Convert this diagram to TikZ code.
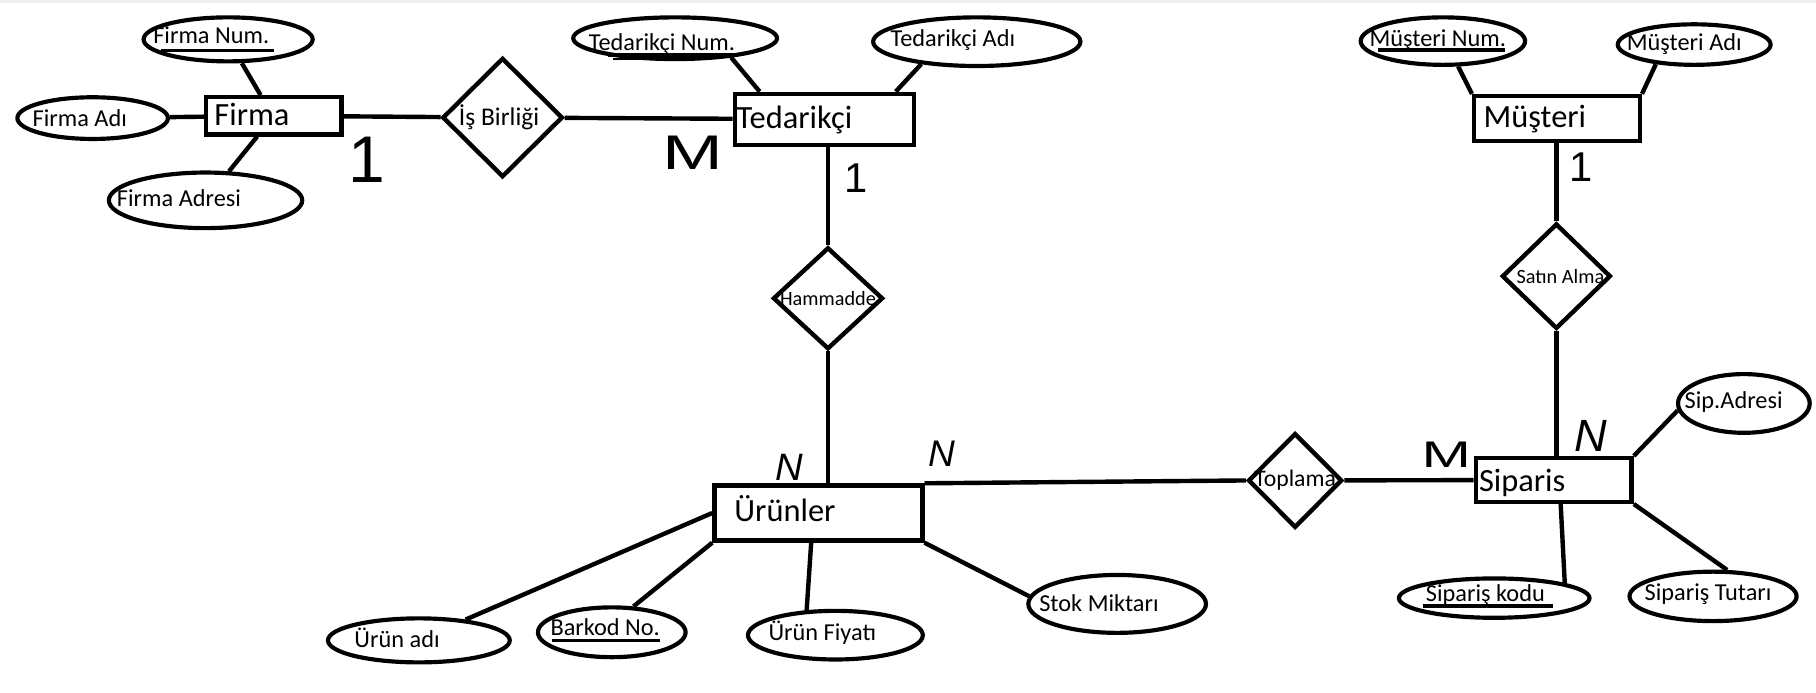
\documentclass[tikz,border=0pt]{standalone}
\usepackage{fontspec}
\setmainfont{Carlito}
\newfontfamily\cardfont{Liberation Sans}
\usetikzlibrary{shapes.geometric,calc}

\tikzstyle{entity} = [rectangle, draw=black, line width=3.8pt, inner sep=0pt]
\tikzstyle{attr} = [ellipse, draw=black, line width=3.6pt, inner sep=0pt]
\tikzstyle{rel} = [diamond, draw=black, line width=3.8pt, inner sep=0pt]
\tikzstyle{link} = [line width=3.8pt]
\tikzstyle{keyline} = [line width=3pt]
\tikzstyle{ename} = [anchor=base west, inner sep=0pt, font=\fontsize{28}{30}\selectfont]
\tikzstyle{aname} = [anchor=base west, inner sep=0pt, font=\fontsize{21}{24}\selectfont]
\tikzstyle{card} = [anchor=base, inner sep=0pt]

\begin{document}
\begin{tikzpicture}[x=1pt, y=-1pt]
\useasboundingbox (0,0) rectangle (1568.2,598.4);
\fill [black!6] (0,0) rectangle (1568.2,2.3);

% entities
\node (firma) [entity, minimum width=117pt, minimum height=32pt] at (236.5,100) {};
\node (tedar) [entity, minimum width=155pt, minimum height=44pt] at (712,103) {};
\node (muster) [entity, minimum width=143pt, minimum height=39pt] at (1344.5,102.5) {};
\node (urun) [entity, minimum width=179.5pt, minimum height=47.5pt] at (706.7,443) {};
\node (sipar) [entity, minimum width=134.5pt, minimum height=37.7pt] at (1341.7,414.5) {};

\node (firmat) [ename] at (185,108) {Firma};
\node (tedart) [ename] at (636,111) {Tedarikçi};
\node (mustert) [ename] at (1281,110) {Müşteri};
\node (urunt) [ename] at (634,450.5) {Ürünler};
\node (sipart) [ename] at (1277,424.6) {Siparis};

% relations
\node (isb) [rel, minimum width=104pt, minimum height=103pt, label={[font=\fontsize{22}{24}\selectfont, xshift=-3pt]center:İş Birliği}] at (434,101.5) {};
\node (ham) [rel, minimum width=95pt, minimum height=88pt, label={[font=\fontsize{17.5}{20}\selectfont]center:Hammadde}] at (715,257.6) {};
\node (satin) [rel, minimum width=94pt, minimum height=91pt, label={[font=\fontsize{17.5}{20}\selectfont, xshift=3.5pt]center:Satın Alma}] at (1344,238.5) {};
\node (topl) [rel, minimum width=81.3pt, minimum height=81.7pt, label={[font=\fontsize{20.5}{23}\selectfont]center:Toplama}] at (1118.4,414.9) {};

% attributes
\node (fnum) [attr, minimum width=146pt, minimum height=38pt] at (197,34) {};
\node (fadi) [attr, minimum width=130pt, minimum height=36pt] at (80,102) {};
\node (fadr) [attr, minimum width=167pt, minimum height=48pt] at (177.5,173) {};
\node (tnum) [attr, minimum width=176pt, minimum height=36pt] at (583,33) {};
\node (tadi) [attr, minimum width=179pt, minimum height=42pt] at (843.5,36) {};
\node (mnum) [attr, minimum width=142pt, minimum height=41pt] at (1246,35.5) {};
\node (madi) [attr, minimum width=132pt, minimum height=35pt] at (1463,38.5) {};
\node (uadi) [attr, minimum width=157pt, minimum height=38pt] at (361.7,553) {};
\node (ubar) [attr, minimum width=127.5pt, minimum height=43pt] at (528.3,546) {};
\node (ufiy) [attr, minimum width=151pt, minimum height=42pt] at (721.4,548.5) {};
\node (ustok) [attr, minimum width=153.4pt, minimum height=50pt] at (964.7,521.5) {};
\node (sadr) [attr, minimum width=113.7pt, minimum height=50.7pt] at (1505.9,348.4) {};
\node (skod) [attr, minimum width=164.6pt, minimum height=34pt] at (1290.3,516.5) {};
\node (stut) [attr, minimum width=144.3pt, minimum height=42.7pt] at (1479.3,515) {};

\node (fnumt) [aname] at (132.2,37.4) {Firma Num.};
\node (fadit) [aname] at (28,109) {Firma Adı};
\node (fadrt) [aname] at (100.8,178.5) {Firma Adresi};
\node (tnumt) [aname] at (508.3,43.2) {Tedarikçi Num.};
\node (tadit) [aname] at (768.9,40.3) {Tedarikçi Adı};
\node (mnumt) [aname] at (1182.5,40.3) {Müşteri Num.};
\node (madit) [aname] at (1404.7,43.2) {Müşteri Adı};
\node (uadit) [aname] at (305.9,559) {Ürün adı};
\node (ubart) [aname] at (475.2,548.4) {Barkod No.};
\node (ufiyt) [aname] at (663.5,552.8) {Ürün Fiyatı};
\node (ustokt) [aname] at (897.3,528.3) {Stok Miktarı};
\node (sadrt) [aname] at (1454.6,352.7) {Sip.Adresi};
\node (skodt) [aname] at (1231.2,519.6) {Sipariş kodu};
\node (stutt) [aname] at (1420,518.2) {Sipariş Tutarı};

% keys
\draw [keyline] ($(fnumt.base west)+(6.6,6.4)$) -- ++(97.5,0);
\draw [keyline] ($(tnumt.base west)+(16.7,4.3)$) -- ++(109.7,0);
\draw [line width=2pt] ($(tnumt.base west)+(21,7.6)$) -- ++(32,0);
\draw [keyline] ($(mnumt.base west)+(7.8,2.9)$) -- ++(109.4,0);
\draw [keyline] ($(ubart.base west)+(1.8,4.9)$) -- ++(92.6,0);
\draw [keyline] ($(skodt.base west)+(-2.7,3.8)$) -- ++(112.4,0);

% connectors
\draw [link] (fnum.-60) -- ([xshift=-11.5pt]firma.north);
\draw [link] (fadi) -- (firma);
\draw [link] (fadr) -- (firma);
\draw [link] (firma) -- (isb);
\draw [link] (isb) -- (tedar);
\draw [link] (tnum.-19) -- ([xshift=-56pt]tedar.north);
\draw [link] (tadi.-158) -- ([xshift=61.5pt]tedar.north);
\draw [link] (ham.north |- tedar.south) -- (ham.north);
\draw [link] (ham.south) -- (ham.south |- urun.north);
\draw [link] (urun.north east) -- (topl.west);
\draw [link] (topl) -- (sipar);
\draw [link] (satin.south) -- (satin.south |- sipar.north);
\draw [link] (satin.north) -- (satin.north |- muster.south);
\draw [link] (mnum.-59) -- (muster.north west);
\draw [link] (madi.-153.5) -- (muster.north east);
\draw [link] (sadr.186.7) -- (sipar.north east);
\draw [link] ([xshift=6pt]sipar.south) -- (skod.12);
\draw [link] (stut.62) -- (sipar.south east);
\draw [link] (uadi.24) -- (urun.west);
\draw [link] (ubar.50.6) -- (urun.south west);
\draw [link] ([xshift=-6.2pt]urun.south) -- (ufiy.139);
\draw [link] (urun.south east) -- (ustok.175);

% cardinalities
\node (one1) [card, font=\cardfont\fontsize{57}{60}\selectfont] at (316.5,158) {1};
\node (one2) [card, font=\cardfont\fontsize{36}{40}\selectfont] at (739,166) {1};
\node (one3) [card, font=\cardfont\fontsize{36}{40}\selectfont] at (1365,157) {1};
\node (mm1) [card, font=\cardfont\fontsize{42}{44}\selectfont] at (598,146) {\scalebox{1.5}[1]{M}};
\node (mm2) [card, font=\cardfont\fontsize{32}{34}\selectfont] at (1249,404) {\scalebox{1.6}[1]{M}};
\node (nn1) [card, font=\cardfont\itshape\fontsize{33}{35}\selectfont] at (682,415) {N};
\node (nn2) [card, font=\cardfont\itshape\fontsize{32}{34}\selectfont] at (813.5,403) {N};
\node (nn3) [card, font=\cardfont\itshape\fontsize{39}{41}\selectfont] at (1373.5,390) {N};
\end{tikzpicture}
\end{document}
